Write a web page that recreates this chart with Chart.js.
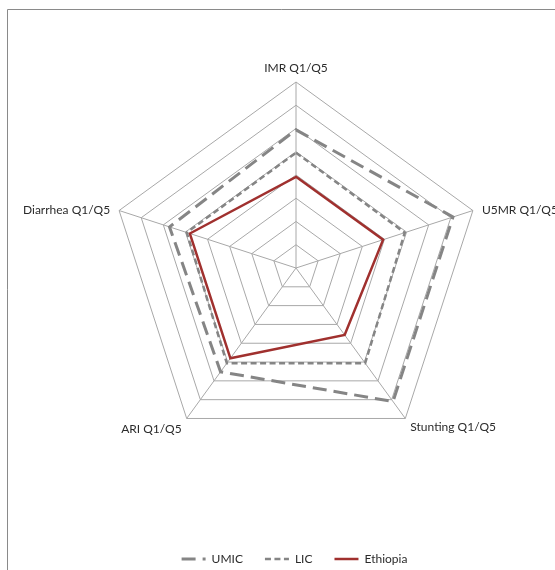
<!DOCTYPE html>
<html>
<head>
<meta charset="utf-8">
<script src="https://cdn.jsdelivr.net/npm/chart.js@4/dist/chart.umd.min.js"></script>
<style>
  html, body { margin: 0; padding: 0; background: #fff; }
  #wrap { width: 555px; height: 570px; position: relative; }
</style>
</head>
<body>
<div id="wrap"><canvas id="c" width="555" height="570"></canvas></div>
<script>
// Axis categories (clockwise from the top)
const categories = ['IMR Q1/Q5', 'U5MR Q1/Q5', 'Stunting Q1/Q5', 'ARI Q1/Q5', 'Diarrhea Q1/Q5'];

// Poorest-to-richest quintile ratios
const umicValues     = [2.97, 3.55, 3.55, 2.76, 2.86];
const licValues      = [2.48, 2.46, 2.53, 2.53, 2.47];
const ethiopiaValues = [1.96, 1.97, 1.78, 2.40, 2.40];

// Radial axis range
const axisMin = 0;
const axisMax = 4;
const axisStep = 0.5;

const FONT = 'Lato, "Liberation Sans", sans-serif';

// Frame lines along the left and top edges
const framePlugin = {
  id: 'frame',
  beforeDraw(chart) {
    const ctx = chart.ctx;
    ctx.save();
    ctx.strokeStyle = '#8a8a8a';
    ctx.lineWidth = 1;
    ctx.beginPath();
    ctx.moveTo(7.5, 570);
    ctx.lineTo(7.5, 9.5);
    ctx.lineTo(555, 9.5);
    ctx.stroke();
    ctx.restore();
  }
};

// Category labels placed just outside the outer ring
const axisLabelPlugin = {
  id: 'axisLabels',
  afterDraw(chart) {
    const s = chart.scales.r;
    const ctx = chart.ctx;
    const outer = s.drawingArea;
    ctx.save();
    ctx.font = '12px ' + FONT;
    ctx.fillStyle = '#2b2b2b';
    categories.forEach((label, i) => {
      const p = s.getPointPosition(i, outer);
      let x = p.x, y = p.y, align = 'center';
      if (i === 0) { y = p.y - 14; }
      else if (i === 1) { x = p.x + 9; align = 'left'; }
      else if (i === 2) { x = p.x + 5; y = p.y + 9; align = 'left'; }
      else if (i === 3) { x = p.x - 5; y = p.y + 11; align = 'right'; }
      else if (i === 4) { x = p.x - 9; align = 'right'; }
      ctx.textAlign = align;
      ctx.textBaseline = 'middle';
      ctx.fillText(label, x, y);
    });
    ctx.restore();
  }
};

new Chart(document.getElementById('c'), {
  type: 'radar',
  data: {
    labels: categories,
    datasets: [
      {
        label: 'UMIC',
        data: umicValues,
        borderColor: '#858585',
        borderWidth: 3,
        borderDash: [14, 7],
        fill: false,
        pointRadius: 0,
        clip: false
      },
      {
        label: 'LIC',
        data: licValues,
        borderColor: '#858585',
        borderWidth: 2.5,
        borderDash: [6, 3.5],
        fill: false,
        pointRadius: 0,
        clip: false
      },
      {
        label: 'Ethiopia',
        data: ethiopiaValues,
        borderColor: '#a0302e',
        borderWidth: 2.5,
        fill: false,
        pointRadius: 0,
        clip: false
      }
    ]
  },
  options: {
    responsive: false,
    animation: false,
    devicePixelRatio: 1,
    layout: { padding: { top: 20, left: 54, right: 20, bottom: -5 } },
    elements: { line: { tension: 0, borderJoinStyle: 'miter' } },
    scales: {
      r: {
        min: axisMin,
        max: axisMax,
        ticks: { stepSize: axisStep, display: false },
        grid: { color: '#a8a8a8', lineWidth: 1 },
        angleLines: { color: '#a8a8a8', lineWidth: 1 },
        pointLabels: { display: false },
        afterFit(s) {
          s.xCenter = 296;
          s.yCenter = 268;
          s.drawingArea = 186;
        }
      }
    },
    plugins: {
      tooltip: { enabled: false },
      legend: {
        position: 'bottom',
        labels: {
          usePointStyle: true,
          pointStyle: 'line',
          pointStyleWidth: 24,
          boxHeight: 12,
          padding: 22,
          color: '#2b2b2b',
          font: { family: FONT, size: 12 },
          // legend samples carry each series' own stroke and dash pattern
          generateLabels(chart) {
            const items = Chart.defaults.plugins.legend.labels.generateLabels(chart);
            items.forEach((it) => {
              const ds = chart.data.datasets[it.datasetIndex];
              it.lineDash = ds.borderDash || [];
              it.lineWidth = ds.borderWidth;
              it.strokeStyle = ds.borderColor;
              it.pointStyle = 'line';
            });
            return items;
          }
        }
      }
    }
  },
  plugins: [framePlugin, axisLabelPlugin]
});
</script>
</body>
</html>
